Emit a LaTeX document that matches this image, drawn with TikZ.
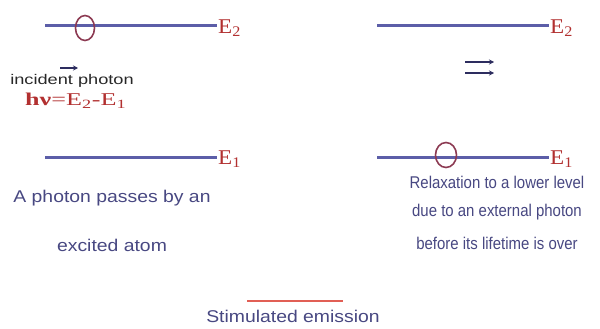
\documentclass[tikz,border=0pt]{standalone}
\usepackage{fontspec}
\setmainfont{Liberation Sans}
\newfontfamily\serifE{Liberation Serif}
\usepackage{graphicx}
\usetikzlibrary{arrows.meta,shapes.geometric}
\definecolor{lineblue}{RGB}{92,94,168}
\definecolor{textblue}{RGB}{72,72,130}
\definecolor{ered}{RGB}{178,48,48}
\definecolor{atomred}{RGB}{140,58,82}
\definecolor{darkink}{RGB}{45,45,95}
\definecolor{textgray}{RGB}{40,40,40}
\definecolor{salmon}{RGB}{225,95,85}
\tikzset{
  level/.style={draw=lineblue, line width=3pt},
  atom/.style={ellipse, draw=atomred, line width=1.6pt, minimum width=19pt, minimum height=25pt, inner sep=0pt},
  elabel/.style={text=ered, anchor=west, inner sep=1pt, font=\serifE\fontsize{21}{22}\selectfont},
  bluetext/.style={text=textblue, inner sep=0pt, font=\fontsize{17}{19}\selectfont},
  photonarrow/.style={draw=darkink, line width=1.4pt, -{Stealth[length=5pt,width=5pt]}}
}
\begin{document}
\begin{tikzpicture}[x=1pt,y=-1pt]
\useasboundingbox[fill=white] (0,0) rectangle (600,329);
% left panel levels
\coordinate (l2a) at (45,26);
\coordinate (l2b) at (217,26);
\coordinate (l1a) at (45,157);
\coordinate (l1b) at (217,157);
\draw[level] (l2a) -- (l2b);
\draw[level] (l1a) -- (l1b);
\node[elabel] (E2L) at ([yshift=-2pt]l2b) {\scalebox{1.1}[1]{E\textsubscript{2}}};
\node[elabel] (E1L) at ([yshift=-2pt]l1b) {\scalebox{1.1}[1]{E\textsubscript{1}}};
\node[atom] (atomL) at (85,28) {};
% incident photon
\coordinate (pa) at (60,68);
\coordinate (pb) at (78,68);
\draw[photonarrow] (pa) -- (pb);
\node[text=textgray, inner sep=0pt, font=\fontsize{14}{16}\selectfont] (inc) at (72,81) {\scalebox{1.3}[1]{incident photon}};
\node[text=ered, anchor=west, inner sep=0pt] (hv) at (25,101) {\serifE\fontsize{18}{20}\selectfont\scalebox{1.45}[1]{\textbf{hν}=E\textsubscript{2}-E\textsubscript{1}}};
\node[bluetext] (lt1) at (112,198) {\scalebox{1.14}[1]{A photon passes by an}};
\node[bluetext] (lt2) at (112,245) {\scalebox{1.14}[1]{excited atom}};
% right panel levels
\coordinate (r2a) at (377,26);
\coordinate (r2b) at (549,26);
\coordinate (r1a) at (377,157);
\coordinate (r1b) at (549,157);
\draw[level] (r2a) -- (r2b);
\draw[level] (r1a) -- (r1b);
\node[elabel] (E2R) at ([yshift=-2pt]r2b) {\scalebox{1.1}[1]{E\textsubscript{2}}};
\node[elabel] (E1R) at ([yshift=-2pt]r1b) {\scalebox{1.1}[1]{E\textsubscript{1}}};
\node[atom, minimum width=21pt] (atomR) at (446,155) {};
% two photons
\coordinate (qa) at (465,62);
\coordinate (qb) at (494,62);
\coordinate (qc) at (465,73);
\coordinate (qd) at (494,73);
\draw[photonarrow] (qa) -- (qb);
\draw[photonarrow] (qc) -- (qd);
\node[bluetext] (rt1) at (497,182) {\scalebox{0.88}[1]{Relaxation to a lower level}};
\node[bluetext] (rt2) at (497,212) {\scalebox{0.88}[1]{due to an external photon}};
\node[bluetext] (rt3) at (497,243) {\scalebox{0.88}[1]{before its lifetime is over}};
% caption
\coordinate (ca) at (247,301);
\coordinate (cb) at (343,301);
\draw[draw=salmon, line width=1.2pt] (ca) -- (cb);
\node[bluetext] (cap) at (293,316) {\scalebox{1.14}[1]{Stimulated emission}};
\end{tikzpicture}
\end{document}
